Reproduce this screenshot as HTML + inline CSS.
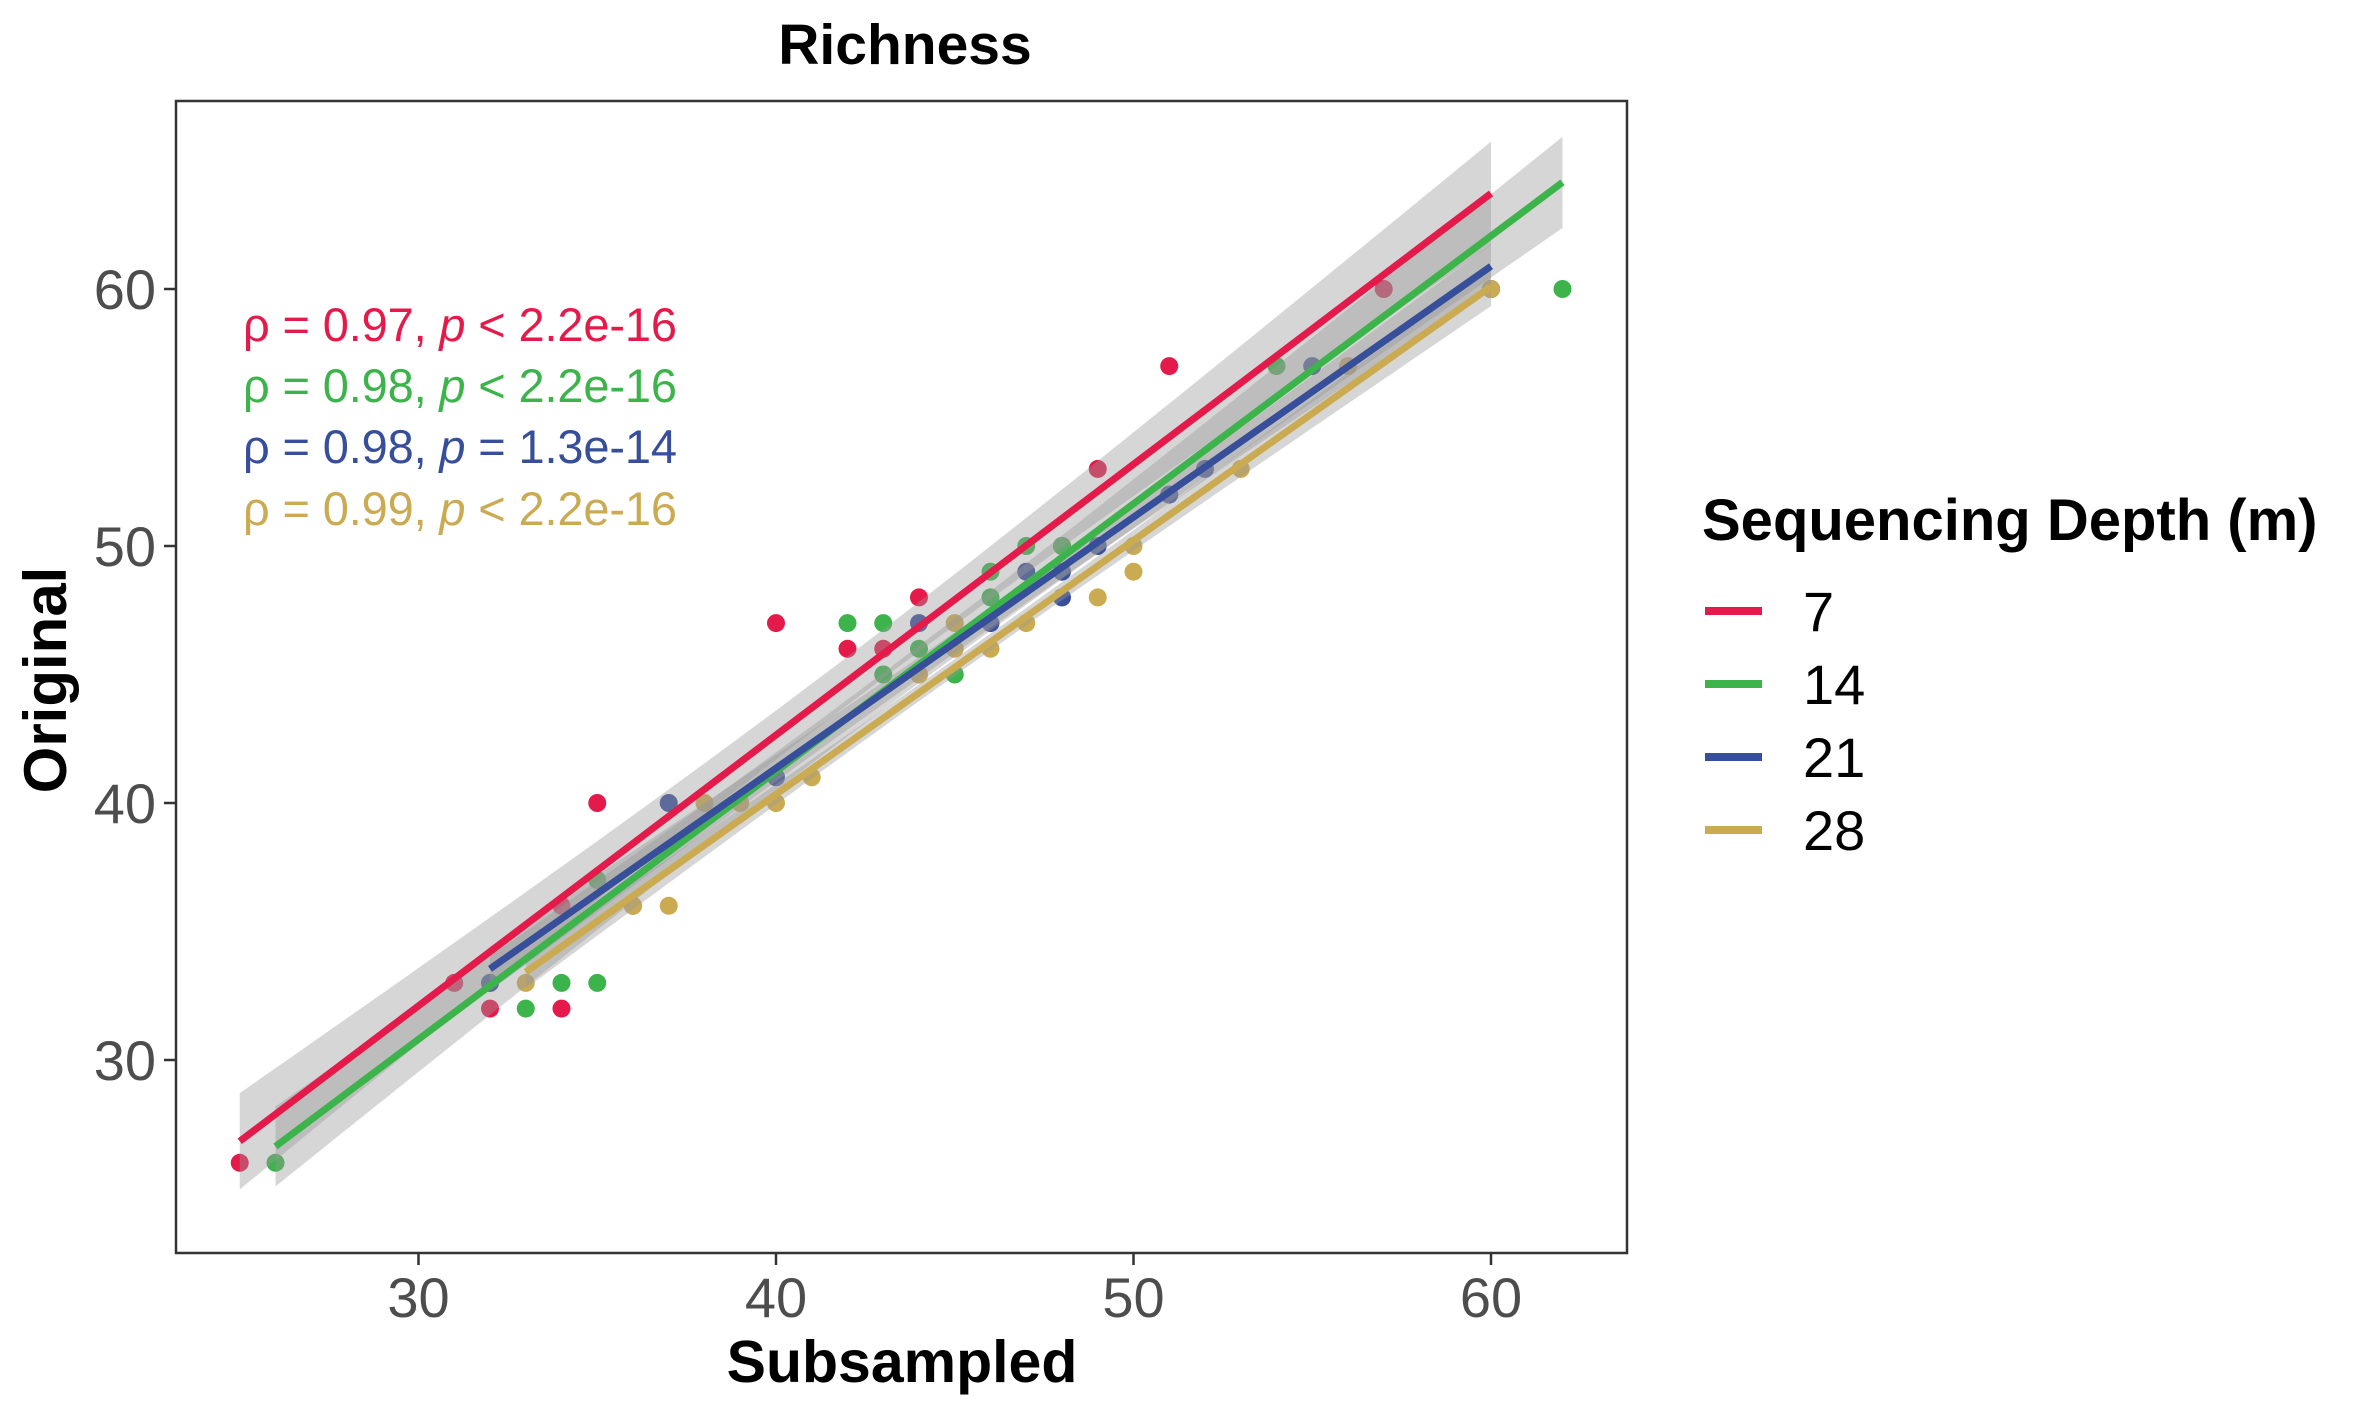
<!DOCTYPE html>
<html><head><meta charset="utf-8"><style>
html,body{margin:0;padding:0;background:#fff;}
svg{display:block;font-family:"Liberation Sans",Arial,sans-serif;}
</style></head><body>
<svg id="chart" width="2362" height="1417" viewBox="0 0 2362 1417" xmlns="http://www.w3.org/2000/svg">
<rect width="2362" height="1417" fill="#fff"/>
<text x="905" y="64" text-anchor="middle" font-size="57" font-weight="bold">Richness</text>
<rect x="176" y="101" width="1451" height="1152" fill="#fff" stroke="#333" stroke-width="2.5"/>
<g id="marks"></g>
<g id="axes"></g>
<g font-size="47">
<text x="243" y="341" fill="#e41a4a" textLength="434">ρ = 0.97, <tspan font-style="italic">p</tspan> &lt; 2.2e-16</text>
<text x="243" y="402" fill="#3cb44b" textLength="434">ρ = 0.98, <tspan font-style="italic">p</tspan> &lt; 2.2e-16</text>
<text x="243" y="463" fill="#374e9b" textLength="434">ρ = 0.98, <tspan font-style="italic">p</tspan> = 1.3e-14</text>
<text x="243" y="525" fill="#cbab52" textLength="434">ρ = 0.99, <tspan font-style="italic">p</tspan> &lt; 2.2e-16</text>
</g>
<text x="902" y="1382" text-anchor="middle" font-size="59" font-weight="bold">Subsampled</text>
<text transform="translate(66,680) rotate(-90)" text-anchor="middle" font-size="60" font-weight="bold">Original</text>
<g>
<text x="1702" y="540" font-size="58" font-weight="bold">Sequencing Depth (m)</text>
<g id="legend-items"></g>
</g>
</svg>
<script>
const depths = ["7","14","21","28"];
const colors = ["#e41a4a","#3cb44b","#374e9b","#cbab52"];
const xTicks = [30,40,50,60];
const yTicks = [30,40,50,60];
const x7 = [25,31,32,34,34,35,40,42,43,44,48,49,51,57,60];
const y7 = [26,33,32,36,32,40,47,46,46,48,50,53,57,60,60];
const x14 = [26,32,33,34,35,35,42,43,43,44,45,46,46,47,48,51,54,62];
const y14 = [26,33,32,33,33,37,47,47,45,46,45,49,48,50,50,52,57,60];
const x21 = [32,36,37,40,44,46,47,48,48,49,51,52,55,60];
const y21 = [33,36,40,41,47,47,49,48,49,50,52,53,57,60];
const x28 = [33,36,37,38,39,40,41,44,45,45,46,47,49,50,50,53,56,60];
const y28 = [33,36,36,40,40,40,41,45,47,46,46,47,48,49,50,53,57,60];
const xs = [x7,x14,x21,x28];
const ys = [y7,y14,y21,y28];

function sx(v){ return 418.5 + (v-30)*35.75; }
function sy(v){ return 1060 - (v-30)*25.7; }
const NS="http://www.w3.org/2000/svg";
function mk(tag, attrs){ const e=document.createElementNS(NS,tag); for(const k in attrs) e.setAttribute(k,attrs[k]); return e; }
const marks=document.getElementById('marks');
const axes=document.getElementById('axes');

for(let s=0;s<4;s++){
  for(let i=0;i<xs[s].length;i++){
    const c=mk('circle',{cx:sx(xs[s][i]),cy:sy(ys[s][i]),r:9,fill:colors[s]});
    
    
    marks.appendChild(c);
  }
}
const fits=[];
for(let s=0;s<4;s++){
  const X=xs[s],Y=ys[s],n=X.length;
  const mx=X.reduce((a,b)=>a+b)/n, my=Y.reduce((a,b)=>a+b)/n;
  let sxx=0,sxy=0; for(let i=0;i<n;i++){sxx+=(X[i]-mx)**2; sxy+=(X[i]-mx)*(Y[i]-my);}
  const b=sxy/sxx, a=my-b*mx;
  let sse=0; for(let i=0;i<n;i++){sse+=(Y[i]-a-b*X[i])**2;}
  const se=Math.sqrt(sse/(n-2)), t=1.5;
  const x0=Math.min(...X), x1=Math.max(...X);
  const up=[],lo=[];
  for(let k=0;k<=40;k++){
    const xv=x0+(x1-x0)*k/40, yv=a+b*xv;
    const w=t*se*Math.sqrt(1/n+(xv-mx)**2/sxx);
    up.push(sx(xv)+','+sy(yv+w)); lo.unshift(sx(xv)+','+sy(yv-w));
  }
  const band=mk('polygon',{points:up.concat(lo).join(' '),fill:'#999',opacity:0.4});
  
  
  marks.appendChild(band);
  fits.push([x0,x1,a,b]);
}
for(let s=0;s<4;s++){
  const [x0,x1,a,b]=fits[s];
  const l=mk('line',{x1:sx(x0),y1:sy(a+b*x0),x2:sx(x1),y2:sy(a+b*x1),stroke:colors[s],'stroke-width':7});
  
  
  marks.appendChild(l);
}
xTicks.forEach(v=>{
  const t=mk('line',{x1:sx(v),x2:sx(v),y1:1253,y2:1265,stroke:'#333','stroke-width':2.5});
  
  
  axes.appendChild(t);
  const tx=mk('text',{x:sx(v),y:1317,'text-anchor':'middle','font-size':56,fill:'#4d4d4d'});
  
  
  tx.textContent=v; axes.appendChild(tx);
});
yTicks.forEach(v=>{
  const t=mk('line',{x1:164,x2:176,y1:sy(v),y2:sy(v),stroke:'#333','stroke-width':2.5});
  
  
  axes.appendChild(t);
  const tx=mk('text',{x:156,y:sy(v)+20,'text-anchor':'end','font-size':56,fill:'#4d4d4d'});
  
  
  tx.textContent=v; axes.appendChild(tx);
});
const li=document.getElementById('legend-items');
for(let s=0;s<4;s++){
  const y=611+s*73;
  const l=mk('line',{x1:1705,x2:1762,y1:y,y2:y,stroke:colors[s],'stroke-width':8});
  
  
  li.appendChild(l);
  const t=mk('text',{x:1803,y:y+20,'font-size':56,fill:'#000'});
  
  
  t.textContent=depths[s]; li.appendChild(t);
}
</script>
</body></html>
